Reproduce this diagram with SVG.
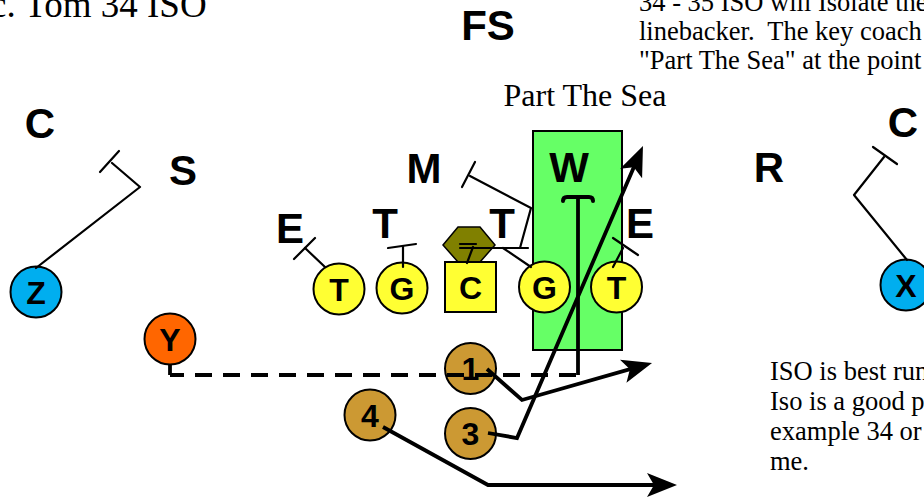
<svg xmlns="http://www.w3.org/2000/svg" width="924" height="497" viewBox="0 0 924 497">
<defs>
<style>
.lbl{font-family:"Liberation Sans",Arial,sans-serif;font-weight:bold;font-size:42px;fill:#000;text-anchor:middle}
.pl{font-family:"Liberation Sans",Arial,sans-serif;font-weight:bold;font-size:32px;fill:#000;text-anchor:middle}
.txt{font-family:"Liberation Serif","Times New Roman",serif;font-size:26.5px;fill:#000;white-space:pre}
.node{stroke:#000;stroke-width:2}
.yel{fill:#FFFF33}
.gold{fill:#CC9933}
.blue{fill:#00AEEF}
.blk{fill:none;stroke:#000;stroke-width:2.2;stroke-linecap:round;stroke-linejoin:round}
.rt{fill:none;stroke:#000;stroke-width:3.8;stroke-linejoin:miter}
</style>
<marker id="ah" markerUnits="userSpaceOnUse" markerWidth="32" markerHeight="26" refX="20" refY="12" orient="auto">
<path d="M0,0 L30,12 L0,24 L7,12 Z" fill="#000"/>
</marker>
</defs>
<rect width="924" height="497" fill="#fff"/>

<g id="texts">
<text class="txt" x="-10" y="17" style="font-size:37px">c. Tom 34 ISO</text>
<text class="txt" x="639" y="11">34 - 35 ISO will Isolate the</text>
<text class="txt" x="639" y="40" xml:space="preserve">linebacker.  The key coach</text>
<text class="txt" x="639" y="69">"Part The Sea" at the point</text>
<text class="txt" x="585" y="106" text-anchor="middle" style="font-size:32px">Part The Sea</text>
<text class="txt" x="770" y="380">ISO is best run</text>
<text class="txt" x="770" y="410">Iso is a good p</text>
<text class="txt" x="770" y="440">example 34 or</text>
<text class="txt" x="770" y="470">me.</text>
</g>

<g id="defense">
<text class="lbl" x="488" y="40">FS</text>
<text class="lbl" x="40" y="138">C</text>
<text class="lbl" x="183" y="185">S</text>
<text class="lbl" x="424" y="183">M</text>
<text class="lbl" x="290" y="243">E</text>
<text class="lbl" x="385" y="238">T</text>
<text class="lbl" x="502" y="238">T</text>
<text class="lbl" x="769" y="182">R</text>
<text class="lbl" x="903" y="137">C</text>
</g>

<g id="part-the-sea">
<rect x="533" y="131" width="89" height="219" fill="#66FF66" stroke="#000" stroke-width="2"/>
<text class="lbl" x="569" y="182">W</text>
<text class="lbl" x="640" y="238">E</text>
</g>

<g id="nose">
<polygon points="443,245 458,227 480,227 495,245 480,262 458,262" fill="#808000" stroke="#000" stroke-width="1.5"/>
</g>

<g id="node-T-left"><circle class="node yel" cx="339" cy="289" r="25.5"/><text class="pl" x="339" y="301">T</text></g>
<g id="node-G-left"><circle class="node yel" cx="402" cy="288" r="25.5"/><text class="pl" x="402" y="300">G</text></g>
<g id="node-C"><rect class="node yel" x="445" y="262" width="51" height="50"/><text class="pl" x="470.5" y="299">C</text></g>
<g id="node-G-right"><circle class="node yel" cx="544.5" cy="287" r="25.5"/><text class="pl" x="544.5" y="299">G</text></g>
<g id="node-T-right"><circle class="node yel" cx="616.5" cy="287" r="25.5"/><text class="pl" x="616.5" y="299">T</text></g>
<g id="node-Z"><circle class="node blue" cx="36" cy="292" r="25.5"/><text class="pl" x="36" y="304">Z</text></g>
<g id="node-X"><circle class="node blue" cx="906" cy="285" r="25.5"/><text class="pl" x="906" y="297">X</text></g>
<g id="node-Y"><circle class="node" fill="#FF6600" cx="170" cy="339" r="25.5"/><text class="pl" x="170" y="351">Y</text></g>
<g id="node-1"><circle class="node gold" cx="470.5" cy="368.5" r="25.5"/><text class="pl" x="470.5" y="380">1</text></g>
<g id="node-3"><circle class="node gold" cx="470.5" cy="433.5" r="25.5"/><text class="pl" x="470.5" y="445">3</text></g>
<g id="node-4"><circle class="node gold" cx="370" cy="415" r="25.5"/><text class="pl" x="370" y="427">4</text></g>

<g id="connectors">
<path class="blk" d="M325,267 L305,248"/>
<path class="blk" d="M294,259 L315,238"/>
<path class="blk" d="M403,267 L403,246"/>
<path class="blk" d="M388,248 L416,244"/>
<path class="blk" d="M467,263 L473,247"/>
<path class="blk" d="M460,244 L476,244"/>
<path class="blk" d="M460,248 L528,248"/>
<path class="blk" d="M531,267 L503,248"/>
<path class="blk" d="M520,248 L531,208 L470,176"/>
<path class="blk" d="M462,187 L475,162"/>
<path class="blk" d="M613,267 L623,248"/>
<path class="blk" d="M613,238 L638,255"/>
<path class="blk" d="M36,268 L140,187 L112,163"/>
<path class="blk" d="M100,172 L119,151"/>
<path class="blk" d="M907,260 L854,195 L884,157"/>
<path class="blk" d="M873,147 L897,164"/>
<path class="rt" d="M170,364 V375"/>
<path class="rt" d="M170,375 H578" stroke-dasharray="17 11" stroke-dashoffset="3"/>
<path class="rt" d="M578,375 V197"/>
<path fill="none" stroke="#000" stroke-width="4" stroke-linecap="round" d="M563,201 Q563,197 567,197 H589 Q593,197 593,201"/>
<path class="rt" d="M487,369 L522,400 L642.4,365.7" marker-end="url(#ah)"/>
<path class="rt" d="M488,433 L517,438 L639,155.2" marker-end="url(#ah)"/>
<path class="rt" d="M383,427 L488,485 L667,485" marker-end="url(#ah)"/>
</g>
</svg>
